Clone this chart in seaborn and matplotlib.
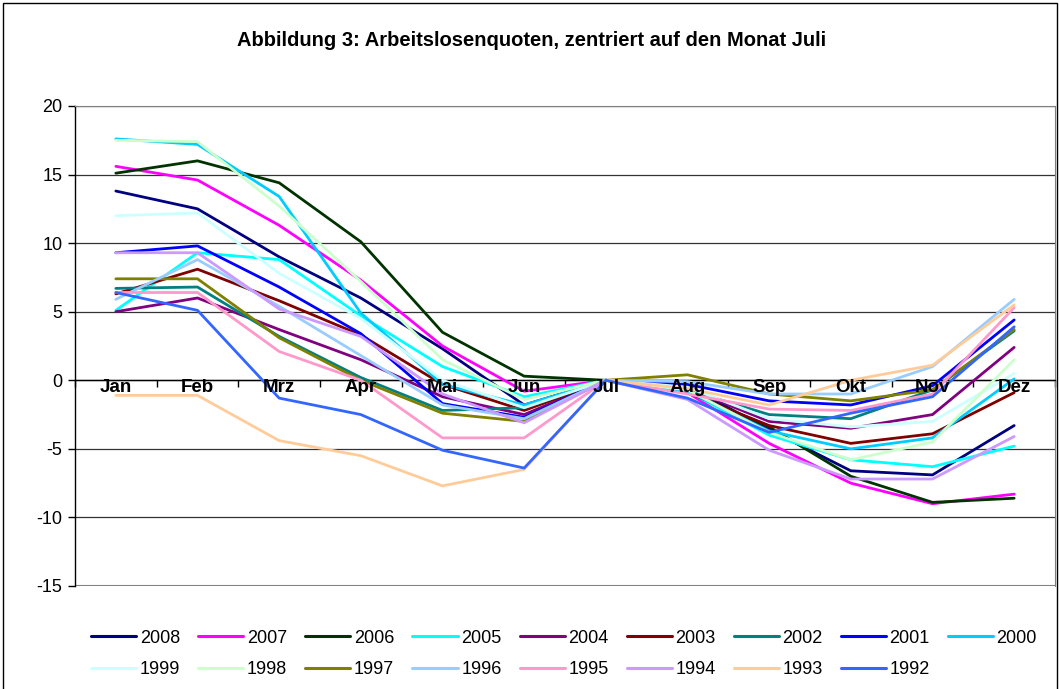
import matplotlib
matplotlib.use("Agg")
import matplotlib.pyplot as plt
from matplotlib.patches import Rectangle
import matplotlib.transforms as mtransforms
import numpy as np
import pandas as pd
import seaborn as sns

months = ["Jan", "Feb", "Mrz", "Apr", "Mai", "Jun", "Jul", "Aug", "Sep", "Okt", "Nov", "Dez"]
years = ["2008", "2007", "2006", "2005", "2004", "2003", "2002", "2001", "2000",
         "1999", "1998", "1997", "1996", "1995", "1994", "1993", "1992"]

# Abweichung vom Juli-Wert in %, je Jahr (Jan..Dez)
v2008 = [13.8, 12.5, 9.0, 6.0, 2.3, -1.8, 0, -0.4, -3.6, -6.6, -6.9, -3.3]
v2007 = [15.6, 14.6, 11.3, 7.3, 2.5, -0.8, 0, -0.9, -4.6, -7.5, -9.0, -8.3]
v2006 = [15.1, 16.0, 14.4, 10.1, 3.5, 0.3, 0, -0.8, -3.4, -7.0, -8.9, -8.6]
v2005 = [5.1, 9.3, 8.8, 4.7, 1.0, -1.2, 0, -0.8, -4.0, -5.8, -6.3, -4.8]
v2004 = [5.0, 6.0, 3.7, 1.5, -1.2, -2.5, 0, -0.6, -3.0, -3.5, -2.5, 2.4]
v2003 = [6.3, 8.1, 5.8, 3.3, -0.3, -2.2, 0, -0.9, -3.3, -4.6, -3.9, -0.9]
v2002 = [6.7, 6.8, 3.2, 0.2, -2.2, -2.0, 0, -0.7, -2.5, -2.8, -0.7, 3.6]
v2001 = [9.3, 9.8, 6.8, 3.4, -1.7, -2.7, 0, -0.3, -1.5, -1.8, -0.4, 4.4]
v2000 = [17.6, 17.2, 13.4, 4.9, -0.3, -1.8, 0, -0.8, -3.7, -5.0, -4.2, 0.1]
v1999 = [12.0, 12.2, 7.8, 4.5, 0.0, -2.0, 0, -0.5, -2.8, -3.4, -3.0, 0.5]
v1998 = [17.5, 17.4, 12.7, 7.2, 1.5, -1.4, 0, -0.7, -3.8, -5.8, -4.5, 1.5]
v1997 = [7.4, 7.4, 3.1, 0.0, -2.4, -3.0, 0, 0.4, -1.0, -1.5, -0.7, 3.7]
v1996 = [5.9, 8.8, 5.4, 1.8, -1.8, -2.8, 0, -0.1, -1.0, -1.0, 1.0, 5.9]
v1995 = [6.4, 6.4, 2.1, 0.0, -4.2, -4.2, 0, -1.0, -2.1, -2.2, -1.0, 5.3]
v1994 = [9.3, 9.3, 5.2, 3.2, -1.0, -3.1, 0, -1.4, -5.1, -7.2, -7.2, -4.1]
v1993 = [-1.1, -1.1, -4.4, -5.5, -7.7, -6.5, 0, -0.6, -1.8, 0.0, 1.1, 5.5]
v1992 = [6.4, 5.1, -1.3, -2.5, -5.1, -6.4, 0, -1.3, -3.8, -2.4, -1.2, 3.9]

colors = ["#000080", "#FF00FF", "#003300", "#00FFFF", "#800080", "#800000", "#008080",
          "#0000FF", "#00CCFF", "#CCFFFF", "#CCFFCC", "#808000", "#99CCFF", "#FF99CC",
          "#CC99FF", "#FFCC99", "#3366FF"]

series = [v2008, v2007, v2006, v2005, v2004, v2003, v2002, v2001, v2000,
          v1999, v1998, v1997, v1996, v1995, v1994, v1993, v1992]

rows = []
for y, vals in zip(years, series):
    for i, v in enumerate(vals):
        rows.append({"Jahr": y, "pos": i, "Wert": v})
df = pd.DataFrame(rows)

sns.set_style("white")
plt.rcParams["font.family"] = ["Liberation Sans", "DejaVu Sans"]
plt.rcParams["text.color"] = "black"
plt.rcParams["ytick.color"] = "black"
plt.rcParams["xtick.color"] = "black"
plt.rcParams["legend.labelcolor"] = "black"

fig = plt.figure(figsize=(10.6, 6.89), dpi=100)
ax = fig.add_axes([75 / 1060, 1 - 586 / 689, 980 / 1060, 480 / 689])

sns.lineplot(data=df, x="pos", y="Wert", hue="Jahr", hue_order=years,
             palette=dict(zip(years, colors)), sort=False, linewidth=2.0,
             ax=ax, legend=False, zorder=3)

ax.set_xlim(-0.5, 11.5)
ax.set_ylim(-15, 20)
ax.set_yticks(np.arange(-15, 21, 5))
ax.set_yticklabels([str(t) for t in range(-15, 21, 5)])
ax.yaxis.grid(True, color="#333333", linewidth=0.9)
ax.set_axisbelow(True)
ax.set_xlabel("")
ax.set_ylabel("")

# Kategorienachse schneidet bei 0
ax.spines["bottom"].set_position(("data", 0))
ax.spines["bottom"].set_color("black")
ax.spines["bottom"].set_linewidth(1.0)
ax.spines["bottom"].set_zorder(2.5)
ax.spines["left"].set_color("black")
ax.spines["left"].set_linewidth(1.0)
ax.spines["top"].set_color("#808080")
ax.spines["right"].set_color("#808080")
ax.axhline(-15, color="#808080", linewidth=1.5, zorder=1)

ax.set_xticks(np.arange(-0.5, 12, 1.0))
ax.set_xticklabels([""] * 13)
ax.tick_params(axis="x", which="major", direction="out", length=5, width=1, color="black", bottom=True)
ax.tick_params(axis="y", direction="out", length=5, width=1, color="black", left=True,
               labelsize=13, pad=4, labelcolor="black")

# Monatsnamen über den Linien (wie in Excel)
trans = mtransforms.blended_transform_factory(ax.transData, ax.transAxes)
y_lab = 1 - (388 - 106) / 480
for i, m in enumerate(months):
    ax.text(i, y_lab, m, transform=trans, ha="center", va="center",
            fontsize=13.5, fontweight="bold", color="black", zorder=10)

fig.text(532 / 1060, 1 - 40 / 689, "Abbildung 3: Arbeitslosenquoten, zentriert auf den Monat Juli",
         ha="center", va="center", fontsize=14.5, fontweight="bold", color="black")

handles = [plt.Line2D([], [], color=c, linewidth=2.2) for c in colors]
order = []
for i in range(9):
    order.append(i)
    if i + 9 < len(years):
        order.append(i + 9)
fig.legend([handles[i] for i in order], [years[i] for i in order], ncol=9,
           loc="center", bbox_to_anchor=(564 / 1060, 1 - 654 / 689), frameon=False,
           fontsize=13, handlelength=2.5, handletextpad=0.2, columnspacing=1.0,
           labelspacing=0.8)

fig.patches.append(Rectangle((3 / 1060, -0.01), 1054 / 1060, 1.01 - 3 / 689,
                             transform=fig.transFigure, fill=False, edgecolor="black",
                             linewidth=1.0))

fig.savefig("out.png", dpi=100)
